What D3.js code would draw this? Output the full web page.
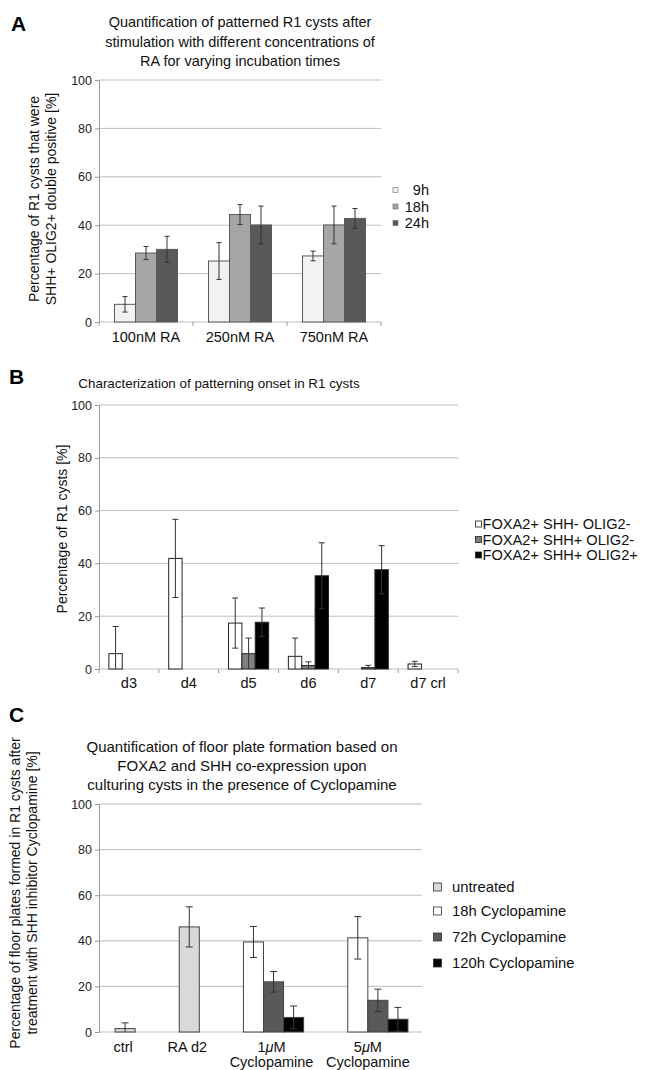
<!DOCTYPE html>
<html>
<head>
<meta charset="utf-8">
<script src="https://cdn.jsdelivr.net/npm/d3@7"></script>
<style>
  body { margin: 0; background: #fff; }
  svg { display: block; font-family: "Liberation Sans", Arial, Helvetica, sans-serif; }
</style>
</head>
<body>
<svg id="fig" width="648" height="1070"></svg>
<script>
// Panel A: patterned cysts vs RA concentration and incubation time
const raConcentrations = ["100nM RA", "250nM RA", "750nM RA"];
const incubationTimes = ["9h", "18h", "24h"];
const patternedMean = [[7.3, 28.5, 30.0], [25.2, 44.4, 40.1], [27.3, 40.1, 42.8]];
const patternedErr = [[3.2, 2.7, 5.4], [7.6, 4.1, 7.8], [2.0, 7.8, 4.1]];

// Panel B: patterning onset
const onsetDays = ["d3", "d4", "d5", "d6", "d7", "d7 crl"];
const onsetSeries = ["FOXA2+ SHH- OLIG2-", "FOXA2+ SHH+ OLIG2-", "FOXA2+ SHH+ OLIG2+"];
const onsetMean = [[5.8, null, null], [41.9, null, null], [17.4, 5.8, 17.7],
                   [4.8, 1.3, 35.3], [null, 0.5, 37.6], [1.9, null, null]];
const onsetErr = [[10.3, 0, 0], [14.8, 0, 0], [9.5, 5.9, 5.4],
                  [6.9, 1.4, 12.5], [0, 0.9, 9.1], [1.0, 0, 0]];

// Panel C: floor plate formation with Cyclopamine
const treatments = [["ctrl"], ["RA d2"], ["1", "μ", "M", "Cyclopamine"], ["5", "μ", "M", "Cyclopamine"]];
const cycloSeries = ["untreated", "18h Cyclopamine", "72h Cyclopamine", "120h Cyclopamine"];
const cycloMean = [[1.5, null, null, null], [46.1, null, null, null],
                   [null, 39.5, 22.0, 6.4], [null, 41.3, 13.9, 5.6]];
const cycloErr = [[2.5, 0, 0, 0], [8.8, 0, 0, 0], [0, 6.8, 4.5, 5.0], [0, 9.3, 4.9, 5.2]];

const pctTicks = [0, 20, 40, 60, 80, 100];

const svg = d3.select('#fig');

function yAxisGrid(g, y, left, right) {
  g.append('g').selectAll('line').data(pctTicks).join('line')
    .attr('x1', left).attr('x2', right)
    .attr('y1', d => y(d)).attr('y2', d => y(d))
    .attr('stroke', '#bdbdbd').attr('stroke-width', 1);
  const ax = g.append('g')
    .attr('transform', `translate(${left},0)`)
    .call(d3.axisLeft(y).tickValues(pctTicks).tickSize(4).tickSizeOuter(0).tickPadding(3));
  ax.attr('font-family', null).attr('font-size', 12.5);
  ax.select('.domain').attr('stroke', '#999');
  ax.selectAll('.tick line').attr('stroke', '#999');
  ax.selectAll('.tick text').attr('fill', '#222');
}

function boundaryTicks(g, x0, n, y0) {
  const r0 = x0.range()[0];
  g.append('g').selectAll('line').data(d3.range(n + 1)).join('line')
    .attr('x1', i => r0 + i * x0.step()).attr('x2', i => r0 + i * x0.step())
    .attr('y1', y0).attr('y2', y0 + 4)
    .attr('stroke', '#999');
}

function drawBars(g, bars, y, stroke, capW) {
  g.append('g').selectAll('rect').data(bars).join('rect')
    .attr('x', d => d.x).attr('width', d => d.w)
    .attr('y', d => y(d.v)).attr('height', d => y(0) - y(d.v))
    .attr('fill', d => d.color).attr('stroke', stroke).attr('stroke-width', 1);
  const eb = g.append('g').attr('stroke', '#333').attr('stroke-width', 1)
    .selectAll('g').data(bars.filter(d => d.e > 0)).join('g');
  eb.append('line')
    .attr('x1', d => d.x + d.w / 2).attr('x2', d => d.x + d.w / 2)
    .attr('y1', d => y(d.v + d.e)).attr('y2', d => y(Math.max(0, d.v - d.e)));
  eb.append('line')
    .attr('x1', d => d.x + d.w / 2 - capW).attr('x2', d => d.x + d.w / 2 + capW)
    .attr('y1', d => y(d.v + d.e)).attr('y2', d => y(d.v + d.e));
  eb.filter(d => d.v - d.e > 0).append('line')
    .attr('x1', d => d.x + d.w / 2 - capW).attr('x2', d => d.x + d.w / 2 + capW)
    .attr('y1', d => y(d.v - d.e)).attr('y2', d => y(d.v - d.e));
}

function titleLines(lines, cx, y0, lh, size) {
  svg.append('text').attr('text-anchor', 'middle').attr('font-size', size).attr('fill', '#111')
    .selectAll('tspan').data(lines).join('tspan')
    .attr('x', cx).attr('y', (d, i) => y0 + i * lh).text(d => d);
}

function yLabel(lines, x, cy, lh) {
  const t = svg.append('text').attr('text-anchor', 'middle').attr('font-size', 14).attr('fill', '#111')
    .attr('transform', `translate(${x},${cy}) rotate(-90)`);
  t.selectAll('tspan').data(lines).join('tspan')
    .attr('x', 0).attr('y', (d, i) => i * lh).text(d => d);
}

function panelLetter(s, x, y) {
  svg.append('text').attr('x', x).attr('y', y).attr('font-size', 21)
    .attr('font-weight', 'bold').attr('fill', '#000').text(s);
}

// ---------------- Panel A ----------------
{
  const g = svg.append('g');
  const y = d3.scaleLinear().domain([0, 100]).range([322, 80]);
  const x0 = d3.scaleBand().domain(raConcentrations).range([99, 381]).paddingInner(0.33).paddingOuter(0.165);
  const x1 = d3.scaleBand().domain(incubationTimes).range([0, x0.bandwidth()]);
  const color = d3.scaleOrdinal().domain(incubationTimes).range(['#f2f2f2', '#a6a6a6', '#595959']);

  yAxisGrid(g, y, 99, 381);
  boundaryTicks(g, x0, raConcentrations.length, 322);

  const bars = raConcentrations.flatMap((c, i) => incubationTimes.map((s, j) => ({
    x: x0(c) + x1(s), w: x1.bandwidth(), v: patternedMean[i][j], e: patternedErr[i][j], color: color(s)
  })));
  drawBars(g, bars, y, '#5a5a5a', 2.5);

  g.append('g').selectAll('text').data(raConcentrations).join('text')
    .attr('x', d => x0(d) + x0.bandwidth() / 2).attr('y', 342)
    .attr('text-anchor', 'middle').attr('font-size', 14.5).attr('fill', '#111').text(d => d);

  const leg = g.append('g').selectAll('g').data(incubationTimes).join('g')
    .attr('transform', (d, i) => `translate(393,${190 + i * 16.5})`);
  leg.append('rect').attr('x', 0).attr('y', -2.5).attr('width', 5).attr('height', 5)
    .attr('fill', d => color(d)).attr('stroke', '#666').attr('stroke-width', 0.6);
  leg.append('text').attr('x', 36).attr('dy', '0.36em').attr('text-anchor', 'end')
    .attr('font-size', 14.5).attr('fill', '#111').text(d => d);

  panelLetter('A', 11, 31);
  titleLines(['Quantification of patterned R1 cysts after',
              'stimulation with different concentrations of',
              'RA for varying incubation times'], 240, 27, 19.5, 14.5);
  yLabel(['Percentage of R1 cysts that were', 'SHH+ OLIG2+ double positive [%]'], 39, 199, 17);
}

// ---------------- Panel B ----------------
{
  const g = svg.append('g');
  const y = d3.scaleLinear().domain([0, 100]).range([669, 405]);
  const x0 = d3.scaleBand().domain(onsetDays).range([99, 458]).paddingInner(0.33).paddingOuter(0.165);
  const x1 = d3.scaleBand().domain(onsetSeries).range([0, x0.bandwidth()]);
  const color = d3.scaleOrdinal().domain(onsetSeries).range(['#ffffff', '#808080', '#000000']);

  yAxisGrid(g, y, 99, 458);
  boundaryTicks(g, x0, onsetDays.length, 669);

  const bars = onsetDays.flatMap((c, i) => onsetSeries.map((s, j) => ({
    x: x0(c) + x1(s), w: x1.bandwidth(), v: onsetMean[i][j], e: onsetErr[i][j], color: color(s)
  }))).filter(d => d.v !== null);
  drawBars(g, bars, y, '#222', 3);

  g.append('g').selectAll('text').data(onsetDays).join('text')
    .attr('x', d => x0(d) + x0.bandwidth() / 2).attr('y', 688)
    .attr('text-anchor', 'middle').attr('font-size', 14.5).attr('fill', '#111').text(d => d);

  const leg = g.append('g').selectAll('g').data(onsetSeries).join('g')
    .attr('transform', (d, i) => `translate(475,${524 + i * 15.5})`);
  leg.append('rect').attr('x', 0.5).attr('y', -3).attr('width', 6).attr('height', 6)
    .attr('fill', d => color(d)).attr('stroke', '#222').attr('stroke-width', 0.8);
  leg.append('text').attr('x', 7.5).attr('dy', '0.35em')
    .attr('font-size', 14.6).attr('fill', '#111').text(d => d);

  panelLetter('B', 9, 384);
  titleLines(['Characterization of patterning onset in R1 cysts'], 219, 388, 18, 13.4);
  yLabel(['Percentage of R1 cysts [%]'], 67, 529, 17);
}

// ---------------- Panel C ----------------
{
  const g = svg.append('g');
  const y = d3.scaleLinear().domain([0, 100]).range([1032, 804]);
  const color = d3.scaleOrdinal().domain(cycloSeries).range(['#d9d9d9', '#ffffff', '#595959', '#000000']);

  // bars are packed side by side; groups only hold their non-empty series
  const leftPad = 0.8, groupGap = 2.2, rightPad = 0.7;
  let cursor = leftPad;
  const groups = treatments.map((t, i) => {
    const present = cycloSeries.map((s, j) => ({ s, v: cycloMean[i][j], e: cycloErr[i][j] }))
      .filter(d => d.v !== null);
    const start = cursor;
    cursor += present.length + groupGap;
    return { t, start, present };
  });
  const total = cursor - groupGap + rightPad;
  const xu = d3.scaleLinear().domain([0, total]).range([99, 422]);
  const unit = xu(1) - xu(0);

  yAxisGrid(g, y, 99, 422);

  const bars = groups.flatMap(gr => gr.present.map((d, k) => ({
    x: xu(gr.start + k), w: unit, v: d.v, e: d.e, color: color(d.s)
  })));
  drawBars(g, bars, y, '#444', 3.5);

  const lab = g.append('g').selectAll('text').data(groups).join('text')
    .attr('text-anchor', 'middle').attr('font-size', 14.5).attr('fill', '#111');
  lab.each(function(gr, i) {
    // the last label sits a little left of its bars in the original
    const cx = xu(gr.start + gr.present.length / 2) - (i === groups.length - 1 ? 10 : 2);
    const t = d3.select(this);
    t.append('tspan').attr('x', cx).attr('y', 1052).text(gr.t[0]);
    if (gr.t.length > 1) {
      t.append('tspan').attr('font-style', 'italic').text(gr.t[1]);
      t.append('tspan').text(gr.t[2]);
      t.append('tspan').attr('x', cx).attr('y', 1067).text(gr.t[3]);
    }
  });

  const leg = g.append('g').selectAll('g').data(cycloSeries).join('g')
    .attr('transform', (d, i) => `translate(433,${[887, 911, 937, 963][i]})`);
  leg.append('rect').attr('x', 0.5).attr('y', -4).attr('width', 8).attr('height', 8)
    .attr('fill', d => color(d)).attr('stroke', '#333').attr('stroke-width', 0.8);
  leg.append('text').attr('x', 19).attr('dy', '0.36em')
    .attr('font-size', 14.8).attr('fill', '#111').text(d => d);

  panelLetter('C', 9, 722);
  titleLines(['Quantification of floor plate formation based on',
              'FOXA2 and SHH co-expression upon',
              'culturing cysts in the presence of Cyclopamine'], 242, 752, 19, 15);
  yLabel(['Percentage of floor plates formed in R1 cysts after',
          'treatment with SHH inhibitor Cyclopamine [%]'], 20, 893, 17);
}
</script>
</body>
</html>
